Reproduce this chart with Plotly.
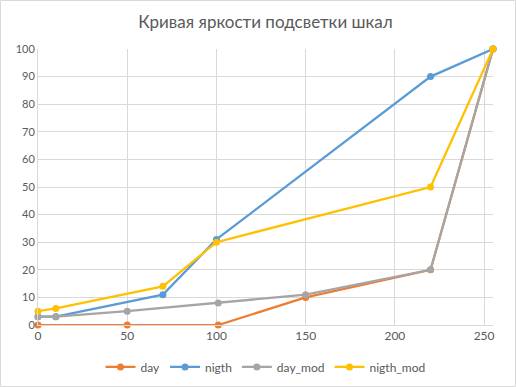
import plotly.graph_objects as go

title = "Кривая яркости подсветки шкал"

day_x = [0, 50, 101, 150, 220, 255]
day_y = [0, 0, 0, 10, 20, 100]

nigth_x = [0, 10, 70, 100, 220, 255]
nigth_y = [3, 3, 11, 31, 90, 100]

day_mod_x = [0, 10, 50, 101, 150, 220, 255]
day_mod_y = [3, 3, 5, 8, 11, 20, 100]

nigth_mod_x = [0, 10, 70, 100, 220, 255]
nigth_mod_y = [5, 6, 14, 30, 50, 100]

series = [
    ("day", day_x, day_y, "#ED7D31"),
    ("nigth", nigth_x, nigth_y, "#5B9BD5"),
    ("day_mod", day_mod_x, day_mod_y, "#A5A5A5"),
    ("nigth_mod", nigth_mod_x, nigth_mod_y, "#FFC000"),
]

fig = go.Figure()
for name, xs, ys, c in series:
    fig.add_trace(go.Scatter(
        x=xs, y=ys, name=name, mode="lines+markers",
        line=dict(color=c, width=2.25),
        marker=dict(color=c, size=7, symbol="circle"),
        cliponaxis=False,
    ))

grid = "#D9D9D9"
txt = "#595959"
fig.update_layout(
    width=516, height=387,
    margin=dict(l=38, r=23, t=49, b=62, autoexpand=False),
    paper_bgcolor="white", plot_bgcolor="white",
    font=dict(family="Lato, Liberation Sans, sans-serif", size=12, color=txt),
    title=dict(text=title, x=0.5, xanchor="center", xref="paper",
               y=1 - 22 / 387, yref="container", yanchor="middle",
               font=dict(size=17, color=txt)),
    xaxis=dict(range=[0, 255], tickvals=[0, 50, 100, 150, 200, 250],
               showgrid=True, gridcolor=grid, gridwidth=1, automargin=False,
               zeroline=False, showline=True, linecolor=grid, ticks="",
               tickfont=dict(size=12, color=txt)),
    yaxis=dict(range=[0, 100], dtick=10, automargin=False,
               showgrid=True, gridcolor=grid, gridwidth=1,
               zeroline=False, showline=True, linecolor=grid, ticks="",
               tickfont=dict(size=11, color=txt)),
    legend=dict(orientation="h", x=0.5, xanchor="center", y=-0.152, yanchor="middle",
                font=dict(size=12, color=txt)),
    showlegend=True,
)
fig.add_shape(type="rect", xref="paper", yref="paper",
              x0=-37.5/455, x1=(455+22.5)/455, y0=-61.5/276, y1=(276+48.5)/276,
              line=dict(color="#D9D9D9", width=1), fillcolor="rgba(0,0,0,0)", layer="below")

fig.write_html("out.html", config={"displayModeBar": False},
               post_script="document.body.style.margin='0';")
